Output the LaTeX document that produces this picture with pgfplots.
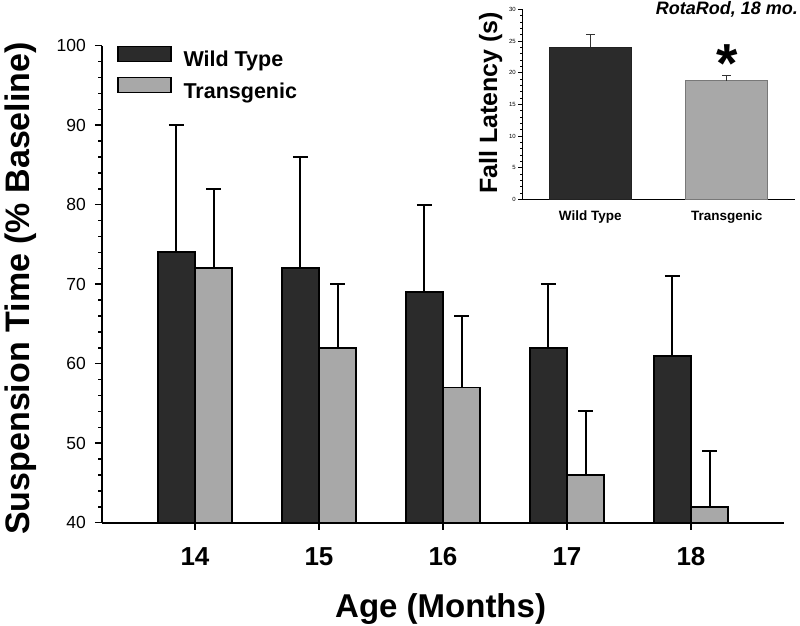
\documentclass[border=0pt]{standalone}
\usepackage{fontspec}
\setmainfont{Liberation Sans}
\usepackage{pgfplots}
\pgfplotsset{compat=1.18}
\definecolor{wt}{RGB}{43,43,43}
\definecolor{tg}{RGB}{168,168,168}
\definecolor{tgedge}{RGB}{120,120,120}
\begin{document}
\begin{tikzpicture}[x=1pt,y=1pt]
\useasboundingbox (0,0) rectangle (800,626);
% ---------------- main axis ----------------
\begin{axis}[
  at={(102pt,103.3pt)}, anchor=south west,
  scale only axis, width=682pt, height=477pt,
  xmin=13.25, xmax=18.75, ymin=40, ymax=100,
  axis x line=bottom, axis y line=left,
  axis line style={-, line width=1.8pt, black},
  /pgf/number format/assume math mode=true,
  xtick={14,15,16,17,18},
  ytick={40,50,60,70,80,90,100},
  minor y tick num=4,
  tick align=outside,
  major tick length=7pt, minor tick length=3.5pt,
  every tick/.style={black, line width=1.5pt},
  xticklabel style={font=\bfseries\fontsize{26}{26}\selectfont, inner sep=0pt, anchor=north, yshift=-17pt, text height=19pt, text depth=0pt},
  yticklabel style={font=\fontsize{17.5}{17.5}\selectfont, inner sep=0pt, anchor=east, xshift=-9pt},
  xlabel={Age (Months)},
  xlabel style={font=\bfseries\fontsize{33}{33}\selectfont, at={(axis description cs:0.4965,-0.1977)}, anchor=base},
  ylabel={Suspension Time (\% Baseline)},
  ylabel style={font=\bfseries\fontsize{34}{34}\selectfont, at={(axis description cs:-0.1056,0.491)}, anchor=base},
  legend style={at={(axis description cs:0.022,1)}, anchor=north west, draw=none, fill=none,
    inner sep=0pt, outer sep=0pt, row sep=5pt, column sep=12pt,
    font=\bfseries\fontsize{21.5}{21.5}\selectfont,
    nodes={inner sep=0pt, text height=16pt, text depth=5pt}},
  legend cell align=left,
  legend image code/.code={\draw[#1, line width=1.5pt] (0pt,0pt) rectangle (53pt,15pt);},
]
\addplot[ybar, bar width=0.3, bar shift=0, fill=wt, draw=black, line width=1.8pt,
  error bars/.cd, y dir=plus, y explicit,
  error bar style={line width=2.1pt, black},
  error mark options={rotate=90, mark size=7.6pt, line width=2.1pt, black}]
  coordinates {(13.85,74) +- (0,16) (14.85,72) +- (0,14) (15.85,69) +- (0,11) (16.85,62) +- (0,8) (17.85,61) +- (0,10)};
\addlegendentry{Wild Type}
\addplot[ybar, bar width=0.3, bar shift=0, fill=tg, draw=black, line width=1.8pt,
  error bars/.cd, y dir=plus, y explicit,
  error bar style={line width=2.1pt, black},
  error mark options={rotate=90, mark size=7.6pt, line width=2.1pt, black}]
  coordinates {(14.15,72) +- (0,10) (15.15,62) +- (0,8) (16.15,57) +- (0,9) (17.15,46) +- (0,8) (18.15,42) +- (0,7)};
\addlegendentry{Transgenic}
\end{axis}
% ---------------- inset ----------------
\begin{axis}[
  at={(522pt,426.7pt)}, anchor=south west,
  scale only axis, width=273pt, height=190pt,
  xmin=0.5, xmax=2.5, ymin=0, ymax=30,
  axis x line=bottom, axis y line=left,
  axis line style={-, line width=0.9pt, black},
  /pgf/number format/assume math mode=true,
  xtick={1,2}, xticklabels={Wild Type, Transgenic},
  major x tick style={draw=none},
  ytick={0,5,10,15,20,25,30},
  minor y tick num=4,
  tick align=outside,
  major tick length=4pt, minor tick length=2pt,
  every tick/.style={black, line width=0.6pt},
  xticklabel style={font=\bfseries\fontsize{13.5}{13.5}\selectfont, inner sep=0pt, anchor=north, yshift=-7.4pt, text height=10pt, text depth=0pt},
  yticklabel style={font=\fontsize{6}{6}\selectfont, inner sep=0pt, anchor=east, xshift=-2pt},
  ylabel={Fall Latency (s)},
  ylabel style={font=\bfseries\fontsize{25}{25}\selectfont, at={(axis description cs:-0.0916,0.507)}, anchor=base},
]
\addplot[ybar, bar width=0.6, fill=wt, draw=wt!80!black, line width=0.8pt,
  error bars/.cd, y dir=plus, y explicit,
  error bar style={line width=0.9pt, black!80},
  error mark options={rotate=90, mark size=4.5pt, line width=0.9pt, black!80}]
  coordinates {(1,24) +- (0,2)};
\addplot[ybar, bar width=0.6, fill=tg, draw=tgedge, line width=0.8pt,
  error bars/.cd, y dir=plus, y explicit,
  error bar style={line width=0.9pt, black!80},
  error mark options={rotate=90, mark size=4.5pt, line width=0.9pt, black!80}]
  coordinates {(2,18.7) +- (0,0.8)};
\node[anchor=base, inner sep=0pt, font=\bfseries\fontsize{55}{55}\selectfont] at (axis cs:2,18.5) {*};
\end{axis}
\node[anchor=base east, inner sep=0pt, font=\bfseries\itshape\fontsize{18}{18}\selectfont] at (798,611) {RotaRod, 18 mo.};
\end{tikzpicture}
\end{document}
